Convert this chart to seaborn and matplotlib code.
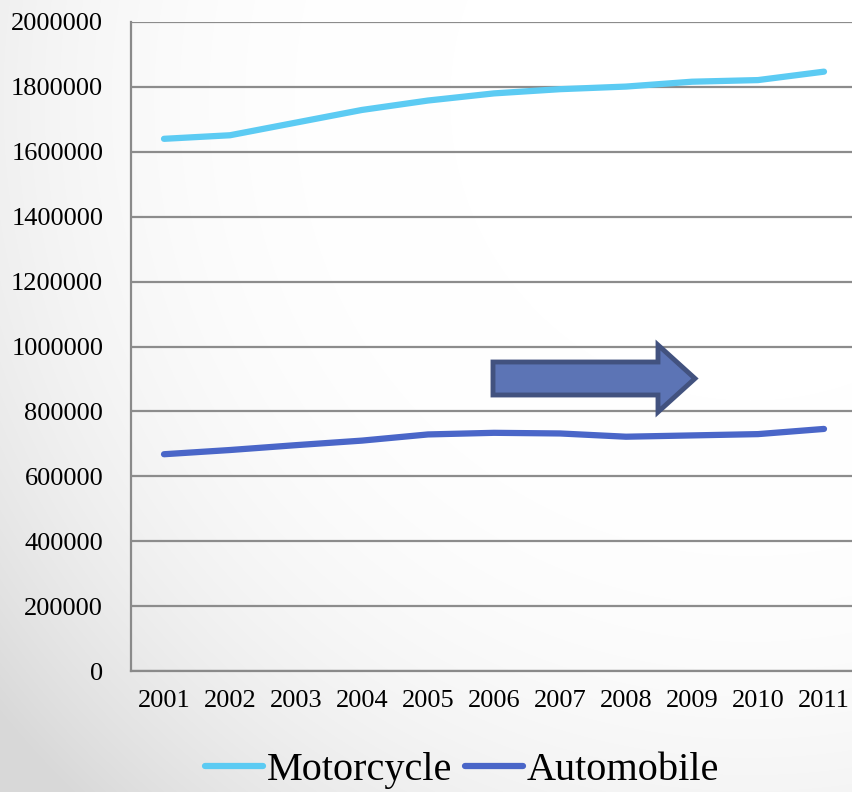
import numpy as np
import pandas as pd
import matplotlib
matplotlib.use("Agg")
import matplotlib.pyplot as plt
import seaborn as sns
from matplotlib.patches import Polygon

years = ["2001", "2002", "2003", "2004", "2005", "2006", "2007", "2008", "2009", "2010", "2011"]
motorcycle = [1640000, 1651000, 1690000, 1729000, 1758000, 1780000, 1793000, 1801000, 1816000, 1821000, 1847000]
automobile = [668000, 681000, 696000, 710000, 729000, 734000, 732000, 722000, 726000, 730000, 746000]
series_names = ["Motorcycle", "Automobile"]
series_colors = ["#5ccbf3", "#4a66c8"]
yticks = [0, 200000, 400000, 600000, 800000, 1000000, 1200000, 1400000, 1600000, 1800000, 2000000]

sns.set_style("white")
plt.rcParams["font.family"] = ["Liberation Serif", "DejaVu Serif"]
plt.rcParams["text.color"] = "black"
plt.rcParams["xtick.color"] = "black"
plt.rcParams["ytick.color"] = "black"

W, H = 852, 792
fig = plt.figure(figsize=(W / 100, H / 100), dpi=100)

# background gradient
bg = fig.add_axes([0, 0, 1, 1], zorder=-10)
yy, xx = np.mgrid[0:H, 0:W]
r = np.sqrt((xx - 750.0) ** 2 + (yy - 100.0) ** 2)
f = 0.14 * np.clip((r - 300) / 650, 0, None) ** 2.5
g = np.clip(1 - f, 0.85, 1)
bg.imshow(np.dstack([g, g, g]), aspect="auto", extent=[0, 1, 0, 1], origin="upper")
bg.axis("off")

ax = fig.add_axes([131 / W, 121 / H, 726 / W, 649 / H])
ax.patch.set_alpha(0)

df = pd.DataFrame({
    "year": list(range(len(years))) * 2,
    "value": motorcycle + automobile,
    "series": [series_names[0]] * len(years) + [series_names[1]] * len(years),
})
sns.lineplot(data=df, x="year", y="value", hue="series", palette=series_colors,
             linewidth=4.5, ax=ax, legend=False, solid_capstyle="round", zorder=5)

ax.set_xlim(-0.5, len(years) - 0.5)
ax.set_ylim(0, 2000000)
ax.set_yticks(yticks)
ax.set_yticklabels([str(v) for v in yticks])
ax.set_xticks(np.arange(-0.5, len(years), 1.0))
ax.set_xticklabels([])
ax.set_xticks(np.arange(len(years)), minor=True)
ax.set_xticklabels(years, minor=True)
ax.tick_params(axis="x", which="major", length=7, width=1.5, color="#8a8a8a", direction="out")
ax.tick_params(axis="x", which="minor", length=0, pad=14, labelsize=19, labelcolor="black")
ax.tick_params(axis="y", length=7, width=1.5, color="#8a8a8a", pad=13, labelsize=19,
               labelcolor="black", direction="out")
ax.set_xlabel("")
ax.set_ylabel("")
ax.yaxis.grid(True, color="#8c8c8c", linewidth=1.6)
ax.set_axisbelow(True)
for s in ["top", "right"]:
    ax.spines[s].set_visible(False)
for s in ["left", "bottom"]:
    ax.spines[s].set_color("#8a8a8a")
    ax.spines[s].set_linewidth(1.6)

# arrow annotation
pts = [(493, 362), (658, 362), (658, 345), (695, 378.5), (658, 412), (658, 395), (493, 395)]
arrow = Polygon([(x / W, 1 - y / H) for x, y in pts], closed=True, transform=fig.transFigure,
                facecolor="#5c74b5", edgecolor="#42527f", linewidth=3.5, joinstyle="miter", zorder=20)
fig.patches.append(arrow)

handles = [plt.Line2D([], [], color=c, linewidth=4.5, solid_capstyle="round") for c in series_colors]
fig.legend(handles, series_names, loc="center", bbox_to_anchor=(462 / W, 1 - 770 / H),
           ncol=2, frameon=False, fontsize=29, handlelength=1.45, handletextpad=0.1,
           columnspacing=0.3, borderaxespad=0, labelcolor="black")

fig.savefig("out.png", dpi=100)
